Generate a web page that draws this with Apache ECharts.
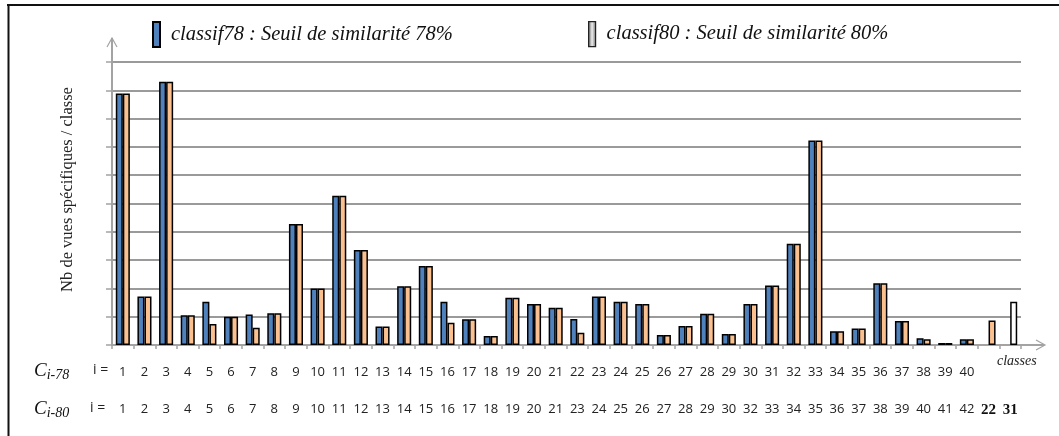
<!DOCTYPE html>
<html>
<head>
<meta charset="utf-8">
<script src="https://cdn.jsdelivr.net/npm/echarts@6/dist/echarts.min.js"></script>
<style>
  html, body { margin: 0; padding: 0; background: #fff; }
  #chart { width: 1059px; height: 436px; }
</style>
</head>
<body>
<div id="chart"></div>
<script>
// class numbers under each column, one row per classification
const labels78 = ['1','2','3','4','5','6','7','8','9','10','11','12','13','14','15','16','17','18','19','20',
  '21','22','23','24','25','26','27','28','29','30','31','32','33','34','35','36','37','38','39','40','','']
const labels80 = ['1','2','3','4','5','6','7','8','9','10','11','12','13','14','15','16','17','18','19','20',
  '21','23','24','25','26','27','28','29','30','32','33','34','35','36','37','38','39','40','41','42','22','31']

// bar heights, in grid-line units
const classif78 = [8.89, 1.71, 9.30, 1.05, 1.53, 1.00, 1.08, 1.12, 4.28, 2.00,
  5.27, 3.36, 0.65, 2.08, 2.79, 1.53, 0.91, 0.32, 1.67, 1.45,
  1.32, 0.92, 1.71, 1.53, 1.45, 0.35, 0.67, 1.10, 0.39, 1.45,
  2.10, 3.58, 7.23, 0.49, 0.58, 2.18, 0.85, 0.24, 0.07, 0.20, null, null]
const classif80 = [8.89, 1.71, 9.30, 1.05, 0.74, 1.00, 0.61, 1.12, 4.28, 2.00,
  5.27, 3.36, 0.65, 2.08, 2.79, 0.79, 0.91, 0.32, 1.67, 1.45,
  1.32, 0.43, 1.71, 1.53, 1.45, 0.35, 0.67, 1.10, 0.39, 1.45,
  2.10, 3.58, 7.23, 0.49, 0.58, 2.18, 0.85, 0.20, 0.07, 0.20, 0.87, 1.53]
// the last column is drawn hollow
const hollowIndex = 41

const name78 = 'classif78 : Seuil de similarité 78%'
const name80 = 'classif80 : Seuil de similarité 80%'

const serif = 'Liberation Serif'
const sans = 'Open Sans'
const axisGray = '#a3a3a3'

var chart = echarts.init(document.getElementById('chart'), null, {renderer: 'canvas'})

var legendText = {fontFamily: serif, fontStyle: 'italic', fontSize: 20.5, color: '#111', padding: [0, 0, 0, 6]}

var option = {
    animation: false,
    grid: {left: 112, right: 38, top: 62, bottom: 91},
    legend: [
        {
            left: 147, top: 16, itemWidth: 7, itemHeight: 25, icon: 'rect',
            textStyle: legendText,
            data: [{name: name78}]
        },
        {
            left: 583, top: 16, itemWidth: 7, itemHeight: 25, icon: 'rect',
            textStyle: legendText,
            data: [{name: name80,
                itemStyle: {
                    color: {type: 'linear', x: 0, y: 0, x2: 1, y2: 0,
                        colorStops: [{offset: 0, color: '#555'}, {offset: 0.5, color: '#eee'}, {offset: 1, color: '#666'}]},
                    borderColor: '#222', borderWidth: 1.2}}]
        }
    ],
    xAxis: [
        {
            type: 'category',
            data: labels78,
            axisLine: {show: true, lineStyle: {color: axisGray, width: 2}},
            axisTick: {show: true, length: 4, lineStyle: {color: axisGray, width: 1.5}},
            axisLabel: {interval: 0, margin: 21, fontFamily: sans, fontSize: 13, color: '#222'},
            splitLine: {show: false}
        },
        {
            type: 'category',
            data: labels80,
            position: 'bottom',
            axisLine: {show: false},
            axisTick: {show: false},
            axisLabel: {
                interval: 0, margin: 58, fontFamily: sans, fontSize: 13, color: '#222',
                formatter: (v, i) => i >= 40 ? '{b|' + v + '}' : v,
                rich: {b: {fontFamily: serif, fontWeight: 'bold', fontSize: 15, color: '#111'}}
            },
            splitLine: {show: false}
        }
    ],
    yAxis: {
        type: 'value',
        min: 0,
        max: 10,
        interval: 1,
        name: 'Nb de vues spécifiques / classe',
        nameLocation: 'middle',
        nameRotate: 90,
        nameGap: 36,
        nameTextStyle: {fontFamily: serif, fontSize: 16.5, color: '#222', padding: [0, 0, 0, 28]},
        axisLine: {show: true, lineStyle: {color: axisGray, width: 2}},
        axisTick: {show: true, length: 6, lineStyle: {color: axisGray, width: 1.5}},
        axisLabel: {show: false},
        splitLine: {lineStyle: {color: '#9a9a9a', width: 2}}
    },
    series: [
        {
            name: name78,
            type: 'bar',
            data: classif78,
            barGap: '0%',
            barCategoryGap: '35%',
            itemStyle: {color: '#4f81bd', borderColor: '#000', borderWidth: 1.5}
        },
        {
            name: name80,
            type: 'bar',
            data: classif80.map((v, i) => i === hollowIndex ? {value: v, itemStyle: {color: '#fff'}} : v),
            itemStyle: {color: '#fac090', borderColor: '#000', borderWidth: 1.5}
        }
    ],
    graphic: [
        // frame
        {type: 'line', shape: {x1: 7, y1: 5, x2: 1059, y2: 5}, style: {stroke: '#111', lineWidth: 2}},
        {type: 'line', shape: {x1: 8.5, y1: 5, x2: 8.5, y2: 436}, style: {stroke: '#111', lineWidth: 2}},
        // axis arrows
        {type: 'line', shape: {x1: 112, y1: 62, x2: 112, y2: 38}, style: {stroke: axisGray, lineWidth: 2}},
        {type: 'polyline', shape: {points: [[107, 47], [112, 38], [117, 47]]}, style: {stroke: axisGray, lineWidth: 1.2, fill: null}},
        {type: 'line', shape: {x1: 1021, y1: 345, x2: 1044, y2: 345}, style: {stroke: axisGray, lineWidth: 2}},
        {type: 'polyline', shape: {points: [[1036, 340], [1045, 345], [1036, 350]]}, style: {stroke: axisGray, lineWidth: 1.2, fill: null}},
        {type: 'text', left: 997, top: 354, style: {text: 'classes', font: 'italic 14px "Liberation Serif"', fill: '#222'}},
        // row captions
        {type: 'text', left: 34, top: 361, style: {
            text: '{c|C}{s|i-78}',
            rich: {c: {font: 'italic 19px "Liberation Serif"', fill: '#111'},
                   s: {font: 'italic 14px "Liberation Serif"', fill: '#111', padding: [9, 0, 0, 0]}}}},
        {type: 'text', left: 34, top: 399, style: {
            text: '{c|C}{s|i-80}',
            rich: {c: {font: 'italic 19px "Liberation Serif"', fill: '#111'},
                   s: {font: 'italic 14px "Liberation Serif"', fill: '#111', padding: [9, 0, 0, 0]}}}},
        {type: 'text', left: 93, top: 363, style: {text: 'i =', font: '14px "Open Sans"', fill: '#222'}},
        {type: 'text', left: 90, top: 401, style: {text: 'i =', font: '14px "Open Sans"', fill: '#222'}}
    ]
}

chart.setOption(option)
</script>
</body>
</html>
